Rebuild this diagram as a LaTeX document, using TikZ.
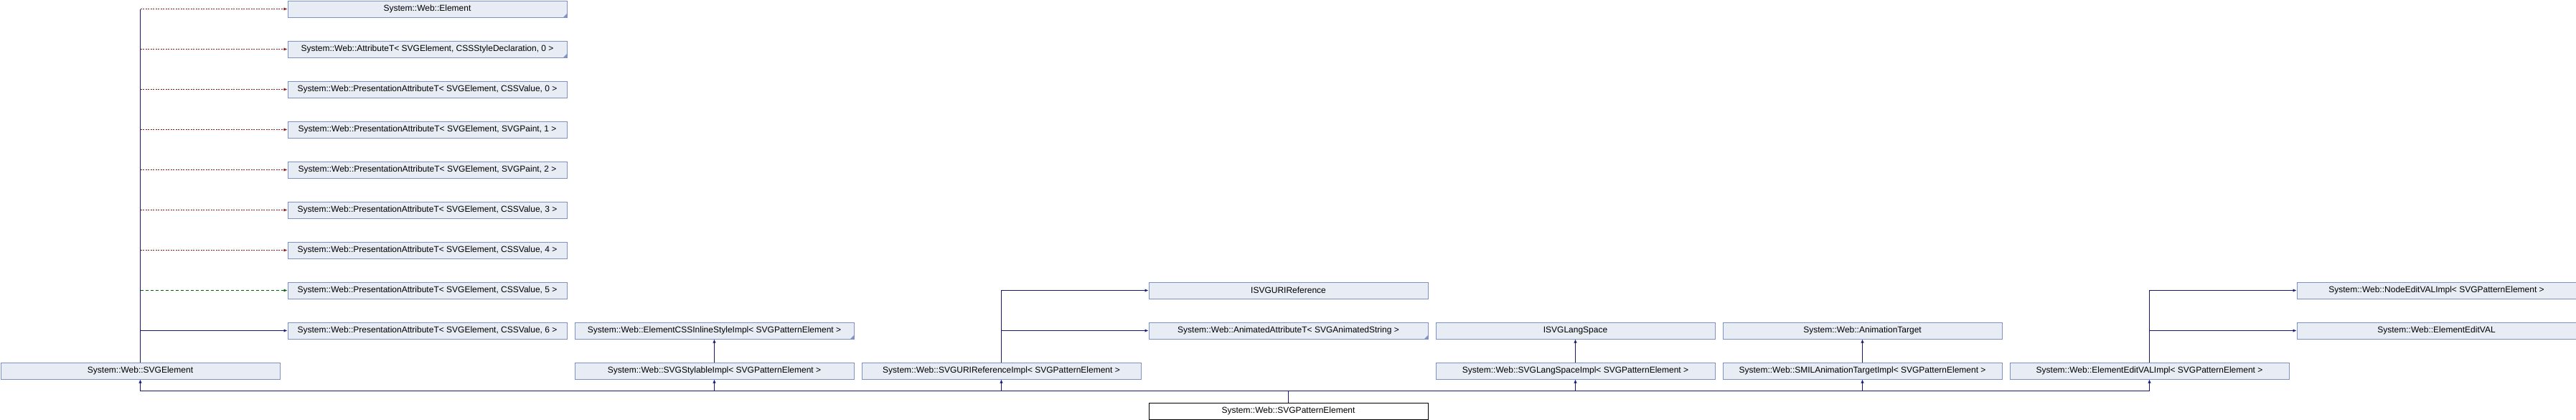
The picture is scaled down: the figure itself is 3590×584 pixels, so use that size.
\documentclass[tikz,border=0pt]{standalone}
\usepackage{fontspec}
\setmainfont{Liberation Sans}
\usetikzlibrary{arrows.meta,calc}
\definecolor{boxfill}{HTML}{E8ECF5}
\definecolor{boxline}{HTML}{7C92C8}
\definecolor{pubblue}{HTML}{191970}
\definecolor{privred}{HTML}{8B1A1A}
\definecolor{protgreen}{HTML}{006400}
\tikzset{
    cls/.style={draw=boxline,fill=boxfill,line width=1pt,minimum width=389pt,
        minimum height=23pt,inner sep=0pt,anchor=north west,
        font=\fontsize{12}{14}\selectfont},
    trunc/.style={path picture={\fill[boxline] (path picture bounding box.south east)
        -- ++(-5pt,0pt) -- ++(5pt,5pt) -- cycle;}},
    pubedge/.style={draw=pubblue,line width=1pt,-{Latex[length=5pt,width=4.5pt]}},
    privedge/.style={pubedge,draw=privred,dash pattern=on 2pt off 1.5pt},
    protedge/.style={pubedge,draw=protgreen,dash pattern=on 4pt off 3pt}
}

\begin{document}
\begin{tikzpicture}[x=1pt,y=-1pt]
    \useasboundingbox (0,0) rectangle (3590,584);

    % Draw base classes of SVGElement.
    \node[cls,trunc] (elem) at (400.5,0.5) {System::Web::Element};
    \node[cls,trunc] (attr) at (400.5,56.5) {System::Web::AttributeT< SVGElement, CSSStyleDeclaration, 0 >};
    \node[cls] (pres0) at (400.5,112.5) {System::Web::PresentationAttributeT< SVGElement, CSSValue, 0 >};
    \node[cls] (pres1) at (400.5,168.5) {System::Web::PresentationAttributeT< SVGElement, SVGPaint, 1 >};
    \node[cls] (pres2) at (400.5,224.5) {System::Web::PresentationAttributeT< SVGElement, SVGPaint, 2 >};
    \node[cls] (pres3) at (400.5,280.5) {System::Web::PresentationAttributeT< SVGElement, CSSValue, 3 >};
    \node[cls] (pres4) at (400.5,336.5) {System::Web::PresentationAttributeT< SVGElement, CSSValue, 4 >};
    \node[cls] (pres5) at (400.5,392.5) {System::Web::PresentationAttributeT< SVGElement, CSSValue, 5 >};
    \node[cls] (pres6) at (400.5,448.5) {System::Web::PresentationAttributeT< SVGElement, CSSValue, 6 >};

    % Draw interfaces of the Impl classes.
    \node[cls,trunc] (inline) at (800.5,448.5) {System::Web::ElementCSSInlineStyleImpl< SVGPatternElement >};
    \node[cls] (isvguri) at (1600.5,392.5) {ISVGURIReference};
    \node[cls,trunc] (animattr) at (1600.5,448.5) {System::Web::AnimatedAttributeT< SVGAnimatedString >};
    \node[cls] (langspace) at (2000.5,448.5) {ISVGLangSpace};
    \node[cls] (animtarget) at (2400.5,448.5) {System::Web::AnimationTarget};
    \node[cls] (nodeedit) at (3200.5,392.5) {System::Web::NodeEditVALImpl< SVGPatternElement >};
    \node[cls] (elemedit) at (3200.5,448.5) {System::Web::ElementEditVAL};

    % Draw direct base classes.
    \node[cls] (svgel) at (0.5,504.5) {System::Web::SVGElement};
    \node[cls] (stylable) at (800.5,504.5) {System::Web::SVGStylableImpl< SVGPatternElement >};
    \node[cls] (uriimpl) at (1200.5,504.5) {System::Web::SVGURIReferenceImpl< SVGPatternElement >};
    \node[cls] (langimpl) at (2000.5,504.5) {System::Web::SVGLangSpaceImpl< SVGPatternElement >};
    \node[cls] (smilimpl) at (2400.5,504.5) {System::Web::SMILAnimationTargetImpl< SVGPatternElement >};
    \node[cls] (editimpl) at (2800.5,504.5) {System::Web::ElementEditVALImpl< SVGPatternElement >};

    % Draw the class itself.
    \node[cls,draw=black,fill=white] (pattern) at (1600.5,560.5) {System::Web::SVGPatternElement};

    % Draw edges from SVGElement.
    \draw[pubblue,line width=1pt] (svgel.north) -- (svgel.north |- elem.west);
    \foreach \nm/\sty in {elem/privedge,attr/privedge,pres0/privedge,pres1/privedge,
        pres2/privedge,pres3/privedge,pres4/privedge,pres5/protedge,pres6/pubedge}
        \draw[\sty] (svgel.north |- \nm.west) -- (\nm.west);

    % Draw edges from SVGPatternElement.
    \coordinate (bus) at ($(pattern.north)+(0,-16)$);
    \foreach \nm in {svgel,stylable,uriimpl,langimpl,smilimpl,editimpl}
        \draw[pubedge] (pattern.north) -- (bus) -| (\nm.south);

    % Draw edges from the Impl classes.
    \draw[pubedge] (stylable.north) -- (inline.south);
    \draw[pubedge] (uriimpl.north) |- (isvguri.west);
    \draw[pubedge] (uriimpl.north) |- (animattr.west);
    \draw[pubedge] (langimpl.north) -- (langspace.south);
    \draw[pubedge] (smilimpl.north) -- (animtarget.south);
    \draw[pubedge] (editimpl.north) |- (nodeedit.west);
    \draw[pubedge] (editimpl.north) |- (elemedit.west);

\end{tikzpicture}
\end{document}
